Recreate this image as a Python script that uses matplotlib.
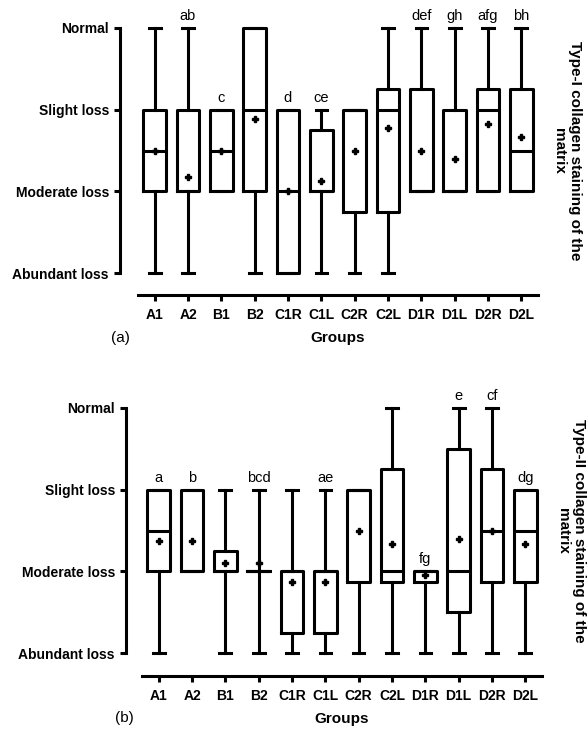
import matplotlib
matplotlib.use("Agg")
import matplotlib.pyplot as plt

plt.rcParams['font.family'] = ['Liberation Sans', 'DejaVu Sans']
plt.rcParams['font.weight'] = 'bold'
plt.rcParams['axes.labelweight'] = 'bold'

groups = ['A1', 'A2', 'B1', 'B2', 'C1R', 'C1L', 'C2R', 'C2L', 'D1R', 'D1L', 'D2R', 'D2L']
levels = ['Abundant loss', 'Moderate loss', 'Slight loss', 'Normal']

# panel (a): type-I collagen
a_lo = [0, 0, 1, 0, 0, 0, 0, 0, 1, 1, 1, 1]
a_q1 = [1, 1, 1, 1, 0, 1, 0.75, 0.75, 1, 1, 1, 1]
a_med = [1.5, 1, 1.5, 2, 1, 1, 2, 2, 1, 1, 2, 1.5]
a_q3 = [2, 2, 2, 3, 2, 1.75, 2, 2.25, 2.25, 2, 2.25, 2.25]
a_hi = [3, 3, 2, 3, 2, 2, 2, 3, 3, 3, 3, 3]
a_mean = [1.5, 1.18, 1.5, 1.89, 1.0, 1.13, 1.5, 1.78, 1.5, 1.4, 1.83, 1.67]
a_letters = ['', 'ab', 'c', '', 'd', 'ce', '', '', 'def', 'gh', 'afg', 'bh']

# panel (b): type-II collagen
b_lo = [0, 1, 0, 0, 0, 0, 0, 0, 0, 0, 0, 0]
b_q1 = [1, 1, 1, 1, 0.25, 0.25, 0.875, 0.875, 0.875, 0.5, 0.875, 0.875]
b_med = [1.5, 1, 1, 1, 1, 1, 2, 1, 1, 1, 1.5, 1.5]
b_q3 = [2, 2, 1.25, 1, 1, 1, 2, 2.25, 1, 2.5, 2.25, 2]
b_hi = [2, 2, 2, 2, 2, 2, 2, 3, 1, 3, 3, 2]
b_mean = [1.37, 1.37, 1.1, 1.1, 0.87, 0.87, 1.5, 1.33, 0.95, 1.39, 1.5, 1.33]
b_letters = ['a', 'b', '', 'bcd', '', 'ae', '', '', 'fg', 'e', 'cf', 'dg']

LW = 2.2


def draw_panel(ax, lo, q1, med, q3, hi, mean, letters, title, tag):
    stats = []
    for i in range(len(groups)):
        stats.append(dict(whislo=lo[i], q1=q1[i], med=med[i], q3=q3[i],
                          whishi=hi[i], mean=mean[i], fliers=[]))
    line = dict(color='k', linewidth=LW)
    ax.bxp(stats, positions=range(len(groups)), widths=0.68, capwidths=0.35,
           showmeans=True, showfliers=False,
           boxprops=line, whiskerprops=line, capprops=line, medianprops=line,
           meanprops=dict(marker='P', markerfacecolor='k', markeredgecolor='k',
                          markersize=5))
    for i, t in enumerate(letters):
        if t:
            ax.annotate(t, (i, max(hi[i], q3[i])), xytext=(0, 3.5),
                        textcoords='offset points', ha='center', va='bottom',
                        fontsize=10.5, fontweight='normal', annotation_clip=False)
    ax.set_xlim(-0.5, len(groups) - 0.5)
    ax.set_ylim(-0.03, 3.03)
    ax.set_yticks(range(4))
    ax.set_yticklabels(levels, fontsize=10)
    ax.set_xticks(range(len(groups)))
    ax.set_xticklabels(groups, fontsize=10)
    ax.set_xlabel('Groups', fontsize=11, fontweight='bold', labelpad=7)
    for s in ['top', 'right']:
        ax.spines[s].set_visible(False)
    ax.spines['left'].set_bounds(0, 3)
    ax.spines['left'].set_linewidth(LW)
    ax.spines['bottom'].set_linewidth(LW)
    ax.tick_params(direction='out', length=4, width=LW)
    ax.tick_params(axis='x', pad=5)
    ax.tick_params(axis='y', pad=4)
    ax.text(1.072, 0.5, title, transform=ax.transAxes, rotation=270,
            ha='center', va='center', fontsize=11, linespacing=1.15,
            multialignment='center')
    ax.text(-0.045, -0.25, tag, transform=ax.transAxes, ha='center',
            va='center', fontsize=11, fontweight='normal')


fig = plt.figure(figsize=(5.87, 7.32), dpi=100)

ax1 = fig.add_axes([138 / 587, 1 - 275.5 / 732, 400 / 587, 250 / 732])
draw_panel(ax1, a_lo, a_q1, a_med, a_q3, a_hi, a_mean, a_letters,
           'Type-I collagen staining of the\nmatrix', '(a)')
ax1.spines['left'].set_position(('axes', -0.045))
ax1.spines['bottom'].set_position(('axes', -0.078))

ax2 = fig.add_axes([142 / 587, 1 - 655.5 / 732, 400 / 587, 250 / 732])
draw_panel(ax2, b_lo, b_q1, b_med, b_q3, b_hi, b_mean, b_letters,
           'Type-II collagen staining of the\nmatrix', '(b)')
ax2.spines['left'].set_position(('axes', -0.04))
ax2.spines['bottom'].set_position(('axes', -0.082))

fig.savefig('out.png', dpi=100)
